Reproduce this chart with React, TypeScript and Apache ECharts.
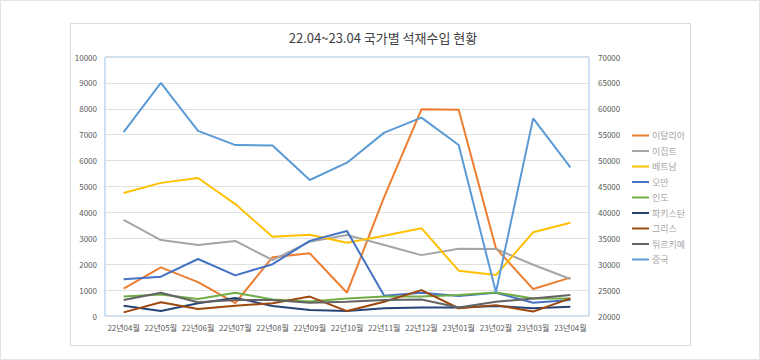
import React, { useEffect, useRef } from "react";
import * as echarts from "echarts";

const categories = ["22년04월", "22년05월", "22년06월", "22년07월", "22년08월", "22년09월", "22년10월", "22년11월", "22년12월", "23년01월", "23년02월", "23년03월", "23년04월"];

const italy = [1060, 1880, 1310, 500, 2270, 2420, 900, 4600, 7980, 7960, 2620, 1040, 1480];
const egypt = [3710, 2930, 2740, 2900, 2160, 2870, 3130, 2740, 2350, 2600, 2590, 1980, 1430];
const vietnam = [4750, 5140, 5330, 4320, 3060, 3140, 2830, 3100, 3390, 1750, 1580, 3230, 3600];
const oman = [1420, 1520, 2200, 1570, 2000, 2900, 3280, 780, 900, 770, 900, 510, 620];
const india = [750, 830, 660, 900, 640, 560, 680, 750, 750, 810, 910, 680, 680];
const pakistan = [400, 190, 490, 700, 390, 230, 190, 300, 330, 330, 390, 300, 360];
const greece = [140, 530, 270, 400, 490, 750, 190, 550, 1000, 300, 420, 170, 680];
const turkey = [620, 900, 530, 620, 620, 510, 550, 620, 640, 330, 550, 680, 810];
const china = [55500, 65000, 55750, 53000, 52900, 46250, 49600, 55400, 58300, 53000, 24600, 58150, 48700];

const leftTicks = { min: 0, max: 10000, interval: 1000 };
const rightTicks = { min: 20000, max: 70000, interval: 5000 };

const seriesDefs = [
  { name: "이탈리아", data: italy, color: "#ED7D31", axis: 0 },
  { name: "이집트", data: egypt, color: "#A5A5A5", axis: 0 },
  { name: "베트남", data: vietnam, color: "#FFC000", axis: 0 },
  { name: "오만", data: oman, color: "#4472C4", axis: 0 },
  { name: "인도", data: india, color: "#70AD47", axis: 0 },
  { name: "파키스탄", data: pakistan, color: "#264478", axis: 0 },
  { name: "그리스", data: greece, color: "#9E480E", axis: 0 },
  { name: "튀르키예", data: turkey, color: "#636363", axis: 0 },
  { name: "중국", data: china, color: "#5B9BD5", axis: 1 },
];

const FONT = "'Noto Sans CJK KR', 'Noto Sans', sans-serif";

export default function App() {
  const ref = useRef<HTMLDivElement>(null);
  useEffect(() => {
    if (!ref.current) return;
    const chart = echarts.init(ref.current, undefined, { renderer: "svg" });
    chart.setOption({
      animation: false,
      backgroundColor: "#ffffff",
      graphic: [
        { type: "rect", shape: { x: 0.5, y: 0.5, width: 759, height: 359 }, style: { fill: "none", stroke: "#e3e3e3", lineWidth: 1 }, silent: true },
        { type: "rect", shape: { x: 70.5, y: 23.5, width: 620, height: 322 }, style: { fill: "none", stroke: "#d9d9d9", lineWidth: 1 }, silent: true },
      ],
      title: {
        text: "22.04~23.04 국가별 석재수입 현황",
        left: 378,
        top: 26,
        textAlign: "center",
        textStyle: { fontFamily: FONT, fontSize: 13, fontWeight: "normal", color: "#404040" },
      },
      legend: {
        orient: "vertical",
        left: 627,
        top: 126,
        itemWidth: 17,
        itemHeight: 9,
        itemGap: 6.5,
        icon: "path://M0,4 L17,4 L17,6 L0,6 Z",
        textStyle: { fontFamily: FONT, fontSize: 9, color: "#a6a6a6", padding: [0, 0, 0, -2] },
        data: seriesDefs.map((s) => s.name),
      },
      grid: {
        left: 105,
        top: 57,
        right: 171,
        bottom: 44,
        show: true,
        borderColor: "#9DC3E6",
        borderWidth: 1,
      },
      xAxis: {
        type: "category",
        data: categories,
        boundaryGap: true,
        axisLine: { show: false },
        axisTick: { show: false },
        axisLabel: { fontFamily: FONT, fontSize: 8, color: "#595959", margin: 7, interval: 0 },
      },
      yAxis: [
        {
          type: "value",
          ...leftTicks,
          axisLine: { show: false },
          axisTick: { show: false },
          axisLabel: { fontFamily: FONT, fontSize: 8, color: "#595959", margin: 8, formatter: (v: number) => String(v) },
          splitLine: { lineStyle: { color: "#e0e0e0", width: 1 } },
        },
        {
          type: "value",
          ...rightTicks,
          position: "right",
          axisLine: { show: false },
          axisTick: { show: false },
          axisLabel: { fontFamily: FONT, fontSize: 8, color: "#595959", margin: 9, formatter: (v: number) => String(v) },
          splitLine: { show: false },
        },
      ],
      series: seriesDefs.map((s) => ({
        name: s.name,
        type: "line",
        yAxisIndex: s.axis,
        data: s.data,
        symbol: "none",
        lineStyle: { color: s.color, width: 2 },
        itemStyle: { color: s.color },
      })),
    });
    return () => chart.dispose();
  }, []);
  return <div ref={ref} style={{ position: "fixed", left: 0, top: 0, width: 760, height: 360 }} />;
}
